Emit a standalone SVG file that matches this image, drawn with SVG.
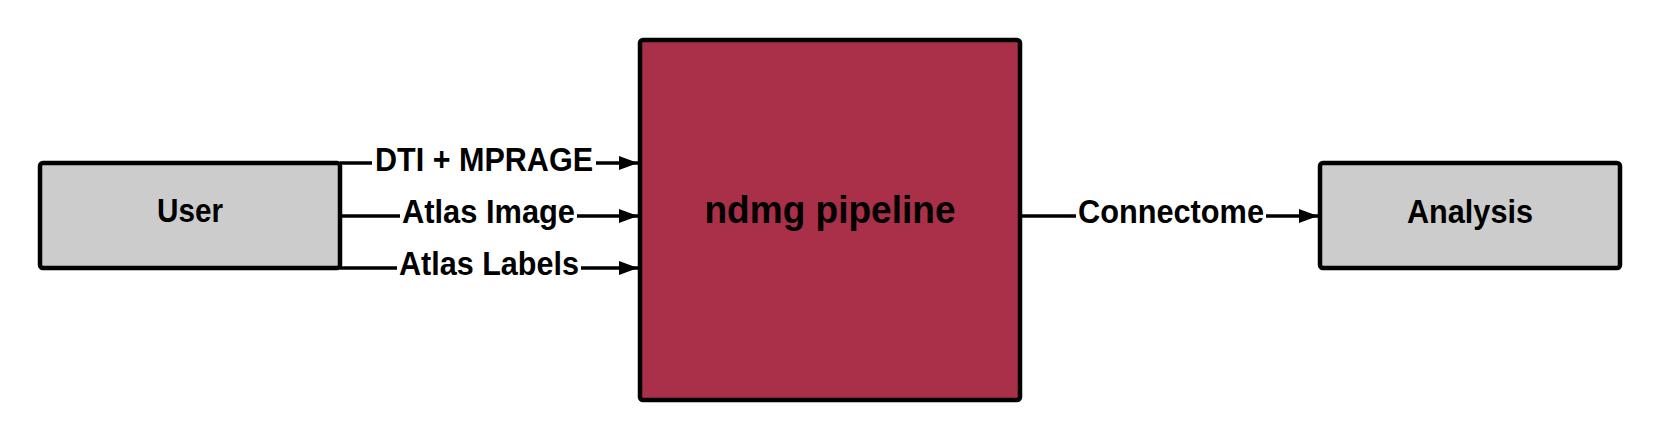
<svg xmlns="http://www.w3.org/2000/svg" width="1660" height="440" viewBox="0 0 1660 440">
<style>
.box{stroke:#000;stroke-width:4.5}
.gray{fill:#cccccc}
.red{fill:#a93048}
.lbl{font-family:"Liberation Sans",Arial,sans-serif;font-weight:bold;font-size:33px;fill:#000;text-anchor:middle}
.title{font-family:"Liberation Sans",Arial,sans-serif;font-weight:bold;font-size:39px;fill:#000;text-anchor:middle}
.conn{fill:none;stroke:#000;stroke-width:3.3}
</style>
<defs>
<marker id="arrow" markerUnits="userSpaceOnUse" markerWidth="20" markerHeight="16" refX="19" refY="7" orient="auto">
<path d="M0 0 L19 7 L0 14 Z" fill="#000"/>
</marker>
</defs>
<rect width="1660" height="440" fill="#fff"/>
<g id="connectors">
<path class="conn" d="M340 163 H372 M596 163 H638" marker-end="url(#arrow)"/>
<path class="conn" d="M340 216 H400 M577 216 H638" marker-end="url(#arrow)"/>
<path class="conn" d="M340 268 H397 M581 268 H638" marker-end="url(#arrow)"/>
<path class="conn" d="M1022 216 H1076 M1266 216 H1318" marker-end="url(#arrow)"/>
<text class="lbl" x="484" y="171" textLength="218" lengthAdjust="spacingAndGlyphs">DTI + MPRAGE</text>
<text class="lbl" x="488.5" y="223" textLength="173" lengthAdjust="spacingAndGlyphs">Atlas Image</text>
<text class="lbl" x="489" y="275" textLength="180" lengthAdjust="spacingAndGlyphs">Atlas Labels</text>
<text class="lbl" x="1171" y="223" textLength="186" lengthAdjust="spacingAndGlyphs">Connectome</text>
</g>
<g id="user">
<rect class="box gray" x="40" y="163" width="300" height="105" rx="3"/>
<text class="lbl" x="190" y="222" textLength="66" lengthAdjust="spacingAndGlyphs">User</text>
</g>
<g id="pipeline">
<rect class="box red" x="640" y="40" width="380" height="360" rx="3"/>
<text class="title" x="830" y="223" textLength="251" lengthAdjust="spacingAndGlyphs">ndmg pipeline</text>
</g>
<g id="analysis">
<rect class="box gray" x="1320" y="163" width="300" height="105" rx="3"/>
<text class="lbl" x="1470" y="223" textLength="126" lengthAdjust="spacingAndGlyphs">Analysis</text>
</g>
</svg>
